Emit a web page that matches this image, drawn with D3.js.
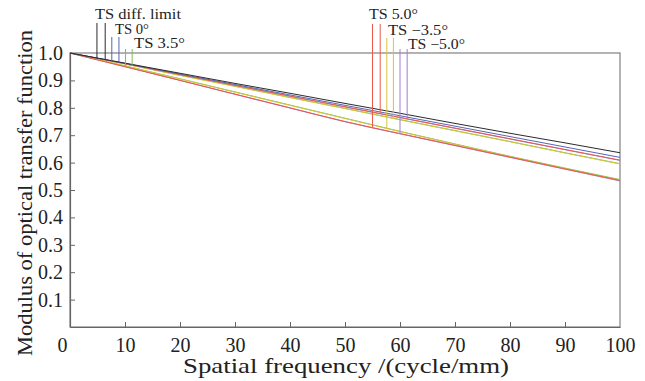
<!DOCTYPE html>
<html>
<head>
<meta charset="utf-8">
<script src="https://cdn.jsdelivr.net/npm/d3@7"></script>
<style>
  body { margin: 0; background: #fff; }
  svg { display: block; }
  text { font-family: "Liberation Serif", "Times New Roman", serif; fill: #222; }
</style>
</head>
<body>
<div id="chart"></div>
<script>
// ---------- data ----------
const freq = [0, 10, 20, 30, 40, 50, 60, 70, 80, 90, 100];

const mtfDiff   = [1, 0.963, 0.926, 0.889, 0.853, 0.816, 0.780, 0.743, 0.707, 0.672, 0.636];
const mtf0      = [1, 0.962, 0.923, 0.885, 0.847, 0.809, 0.771, 0.733, 0.695, 0.657, 0.619];
const mtfS35    = [1, 0.960, 0.919, 0.879, 0.838, 0.798, 0.757, 0.717, 0.677, 0.636, 0.596];
const mtfT35    = [1, 0.953, 0.906, 0.858, 0.810, 0.762, 0.714, 0.668, 0.623, 0.580, 0.538];
const mtfS50    = [1, 0.961, 0.921, 0.882, 0.843, 0.804, 0.765, 0.726, 0.687, 0.648, 0.609];
const mtfT50    = [1, 0.950, 0.900, 0.850, 0.800, 0.750, 0.706, 0.663, 0.620, 0.577, 0.535];
const mtfSm35   = [1, 0.960, 0.918, 0.878, 0.837, 0.797, 0.756, 0.716, 0.676, 0.635, 0.595];
const mtfTm35   = [1, 0.953, 0.905, 0.857, 0.809, 0.761, 0.713, 0.667, 0.622, 0.578, 0.536];
const mtfSm50   = [1, 0.961, 0.921, 0.881, 0.842, 0.803, 0.764, 0.725, 0.686, 0.647, 0.608];
const mtfTm50   = [1, 0.950, 0.900, 0.849, 0.799, 0.749, 0.705, 0.662, 0.619, 0.576, 0.533];

// legend: label, colour, the two curves (T, S), where the leader lines sit (cycle/mm)
const fieldNames  = ["TS diff. limit", "TS 0\u00b0", "TS 3.5\u00b0", "TS 5.0\u00b0", "TS \u22123.5\u00b0", "TS \u22125.0\u00b0"];
const fieldColors = ["#2b2b2b", "#5566b8", "#7cc04e", "#ea5a4a", "#d8c53c", "#a27cd6"];
const fieldT      = [mtfDiff, mtf0, mtfT35, mtfT50, mtfTm35, mtfTm50];
const fieldS      = [mtfDiff, mtf0, mtfS35, mtfS50, mtfSm35, mtfSm50];
const leaderAt    = [[4.9, 6.4], [7.6, 8.9], [10.1, 11.3], [55.0, 56.4], [57.6, 58.8], [60.0, 61.3]];
// drawing order of the fields (later ones sit on top)
const drawOrder   = [5, 2, 4, 3, 1, 0];

const xTicks = [0, 10, 20, 30, 40, 50, 60, 70, 80, 90, 100];
const yTicks = [0.1, 0.2, 0.3, 0.4, 0.5, 0.6, 0.7, 0.8, 0.9, 1.0];

// ---------- layout ----------
const W = 645, H = 381;
const svg = d3.select("#chart").append("svg")
  .attr("width", W).attr("height", H);

const x = d3.scaleLinear().domain([0, 100]).range([70, 620]);
const y = d3.scaleLinear().domain([0, 1]).range([327, 53]);

// frame
svg.append("rect")
  .attr("x", x(0)).attr("y", y(1))
  .attr("width", x(100) - x(0)).attr("height", y(0) - y(1))
  .attr("fill", "none").attr("stroke", "#808080").attr("stroke-width", 1.2);

// axes with inward ticks
const xAxis = svg.append("g")
  .attr("transform", `translate(0,${y(0)})`)
  .call(d3.axisBottom(x).tickValues(xTicks).tickSizeInner(-5).tickSizeOuter(0).tickPadding(11));
xAxis.selectAll("text").filter(d => d === 0).attr("dx", -8);

const yAxis = svg.append("g")
  .attr("transform", `translate(${x(0)},0)`)
  .call(d3.axisLeft(y).tickValues(yTicks).tickFormat(d3.format(".1f")).tickSizeInner(-5).tickSizeOuter(0).tickPadding(7));

[xAxis, yAxis].forEach(g => {
  g.select(".domain").attr("stroke", "#666").attr("stroke-width", 1.2);
  g.selectAll(".tick line").attr("stroke", "#666");
  g.selectAll(".tick text")
    .style("font-family", "'Liberation Serif', serif")
    .style("font-size", "20px").attr("fill", "#222");
});
xAxis.selectAll(".tick").filter(d => d === 0 || d === 100).select("line").remove();
yAxis.selectAll(".tick").filter(d => d === 1).select("line").remove();

// axis titles
svg.append("text")
  .attr("x", 346).attr("y", 373)
  .attr("text-anchor", "middle")
  .attr("textLength", 326).attr("lengthAdjust", "spacingAndGlyphs")
  .style("font-size", "21px")
  .text("Spatial frequency /(cycle/mm)");

svg.append("text")
  .attr("transform", "translate(32,193) rotate(-90)")
  .attr("text-anchor", "middle")
  .attr("textLength", 326).attr("lengthAdjust", "spacingAndGlyphs")
  .style("font-size", "21px")
  .text("Modulus of optical transfer function");

// ---------- curves ----------
const line = d3.line()
  .x((d, i) => x(freq[i]))
  .y(d => y(d))
  .curve(d3.curveMonotoneX);

const curves = [];
drawOrder.forEach(i => {
  curves.push({ values: fieldS[i], color: fieldColors[i] });
  if (fieldT[i] !== fieldS[i]) curves.push({ values: fieldT[i], color: fieldColors[i] });
});

svg.append("g").selectAll("path")
  .data(curves)
  .join("path")
  .attr("d", d => line(d.values))
  .attr("fill", "none")
  .attr("stroke", d => d.color)
  .attr("stroke-width", 1);

// ---------- labels with leader lines ----------
const labelPos = [
  { tx: 95,  ty: 19, w: 86, top: 23 },
  { tx: 115, ty: 34, w: 34, top: 37 },
  { tx: 134, ty: 48, w: 51, top: 49 },
  { tx: 369, ty: 19, w: 49, top: 24 },
  { tx: 388, ty: 35, w: 60, top: 38 },
  { tx: 408, ty: 49, w: 57, top: 49 }
];

// value of a curve at a frequency, by linear interpolation between read points
function valueAt(values, f) {
  const i = Math.min(Math.floor(f / 10), freq.length - 2);
  const t = (f - freq[i]) / (freq[i + 1] - freq[i]);
  return values[i] + t * (values[i + 1] - values[i]);
}

const legend = svg.append("g");
fieldNames.forEach((name, i) => {
  const p = labelPos[i];
  const [fT, fS] = leaderAt[i];
  [[fT, fieldT[i]], [fS, fieldS[i]]].forEach(([f, vals]) => {
    legend.append("line")
      .attr("x1", x(f)).attr("x2", x(f))
      .attr("y1", p.top).attr("y2", y(valueAt(vals, f)))
      .attr("stroke", fieldColors[i]).attr("stroke-width", 1);
  });
  legend.append("text")
    .attr("x", p.tx).attr("y", p.ty)
    .attr("textLength", p.w).attr("lengthAdjust", "spacingAndGlyphs")
    .style("font-size", "14.5px")
    .text(name);
});
</script>
</body>
</html>
